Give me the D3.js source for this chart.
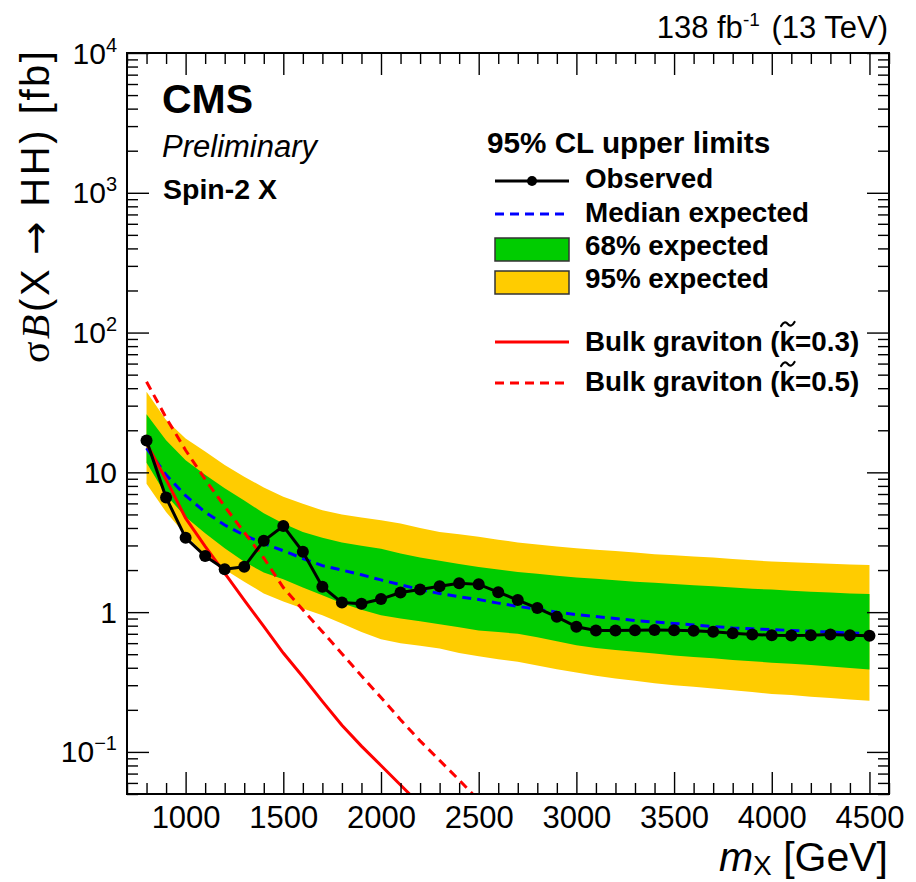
<!DOCTYPE html>
<html>
<head>
<meta charset="utf-8">
<script src="https://cdn.jsdelivr.net/npm/d3@7"></script>
<style>
  html, body { margin: 0; padding: 0; background: #fff; }
  svg { display: block; }
  text { font-family: "Liberation Sans", Arial, Helvetica, sans-serif; fill: #000; }
</style>
</head>
<body>
<svg id="chart" width="916" height="882"></svg>
<script>
// Resonance mass points (GeV) where the limits were computed
const massPoints = [800, 900, 1000, 1100, 1200, 1300, 1400, 1500, 1600, 1700,
  1800, 1900, 2000, 2100, 2200, 2300, 2400, 2500, 2600, 2700,
  2800, 2900, 3000, 3100, 3200, 3300, 3400, 3500, 3600, 3700,
  3800, 3900, 4000, 4100, 4200, 4300, 4400, 4500];

// Observed 95% CL upper limit on sigma*B(X -> HH) [fb]
const observed = [16.9, 6.6, 3.4, 2.52, 2.03, 2.11, 3.24, 4.13, 2.70, 1.52,
  1.17, 1.15, 1.24, 1.38, 1.45, 1.53, 1.61, 1.58, 1.39, 1.22,
  1.07, 0.925, 0.785, 0.74, 0.74, 0.743, 0.745, 0.743, 0.735, 0.723,
  0.707, 0.692, 0.684, 0.681, 0.684, 0.692, 0.684, 0.677];

// Expected limits: median and the 68% / 95% bands
const expMedian = [14.9, 9.6, 6.8, 5.2, 4.2, 3.55, 3.1, 2.75, 2.42, 2.15,
  2.0, 1.85, 1.70, 1.57, 1.45, 1.36, 1.29, 1.23, 1.16, 1.10,
  1.05, 1.0, 0.96, 0.93, 0.90, 0.87, 0.85, 0.83, 0.81, 0.79,
  0.77, 0.76, 0.75, 0.74, 0.73, 0.72, 0.71, 0.70];
const exp68Up = [26.0, 17.0, 12.2, 9.6, 7.7, 6.3, 5.1, 4.3, 3.75, 3.4,
  3.15, 2.98, 2.84, 2.63, 2.46, 2.33, 2.21, 2.10, 2.02, 1.94,
  1.88, 1.82, 1.77, 1.73, 1.69, 1.65, 1.62, 1.59, 1.56, 1.53,
  1.50, 1.47, 1.45, 1.42, 1.40, 1.38, 1.36, 1.35];
const exp68Down = [11.7, 6.9, 4.8, 3.66, 2.86, 2.29, 1.92, 1.72, 1.50, 1.32,
  1.16, 1.04, 0.95, 0.90, 0.86, 0.82, 0.78, 0.74, 0.72, 0.70,
  0.66, 0.62, 0.58, 0.555, 0.535, 0.52, 0.505, 0.49, 0.478, 0.467,
  0.455, 0.445, 0.435, 0.427, 0.418, 0.408, 0.398, 0.389];
const exp95Up = [37.8, 23.7, 17.5, 14.1, 11.3, 9.3, 7.8, 6.7, 5.95, 5.35,
  5.0, 4.75, 4.55, 4.3, 4.0, 3.75, 3.6, 3.46, 3.3, 3.15,
  3.05, 2.95, 2.87, 2.8, 2.74, 2.67, 2.6, 2.55, 2.5, 2.46,
  2.4, 2.35, 2.3, 2.27, 2.25, 2.22, 2.19, 2.17];
const exp95Down = [8.3, 5.2, 3.56, 2.56, 2.02, 1.65, 1.36, 1.19, 1.06, 0.95,
  0.83, 0.72, 0.64, 0.60, 0.575, 0.55, 0.51, 0.484, 0.46, 0.441,
  0.415, 0.39, 0.37, 0.35, 0.335, 0.323, 0.31, 0.30, 0.292, 0.284,
  0.276, 0.268, 0.26, 0.255, 0.248, 0.243, 0.237, 0.232];

// Bulk graviton theory cross sections [fb]
const gravMassK03 = [800, 900, 1000, 1100, 1200, 1300, 1400, 1500, 1600, 1700,
  1800, 1900, 2000, 2100, 2200];
const gravK03 = [16.0, 8.9, 4.7, 2.95, 1.9, 1.22, 0.79, 0.51, 0.345, 0.23,
  0.155, 0.11, 0.08, 0.058, 0.042];
const gravMassK05 = [800, 900, 1000, 1100, 1200, 1300, 1400, 1500, 1600, 1700,
  1800, 1900, 2000, 2100, 2200, 2300, 2400, 2500];
const gravK05 = [44.5, 24.6, 14.4, 8.9, 5.7, 3.72, 2.44, 1.5, 1.04, 0.725,
  0.504, 0.35, 0.245, 0.17, 0.12, 0.087, 0.063, 0.045];

// Axis tick labels
const xTickLabels = [1000, 1500, 2000, 2500, 3000, 3500, 4000, 4500];
const yTickLabels = [
  { v: 1e4, base: "10", sup: "4" },
  { v: 1e3, base: "10", sup: "3" },
  { v: 1e2, base: "10", sup: "2" },
  { v: 10, base: "10", sup: "" },
  { v: 1, base: "1", sup: "" },
  { v: 0.1, base: "10", sup: "\u22121" }
];

const svg = d3.select("#chart");
const frameL = 127, frameR = 889, frameT = 53, frameB = 794;

const x = d3.scaleLinear().domain([700, 4600]).range([frameL, frameR]);
const y = d3.scaleLog().domain([0.05, 1e4]).range([frameB, frameT]);

svg.append("defs").append("clipPath").attr("id", "plotClip")
  .append("rect").attr("x", frameL).attr("y", frameT)
  .attr("width", frameR - frameL).attr("height", frameB - frameT);

const plot = svg.append("g").attr("clip-path", "url(#plotClip)");

const rows = massPoints.map((m, i) => ({
  m, obs: observed[i], med: expMedian[i],
  u1: exp68Up[i], d1: exp68Down[i], u2: exp95Up[i], d2: exp95Down[i]
}));

// 95% band
plot.append("path").datum(rows)
  .attr("fill", "#ffcc00")
  .attr("d", d3.area().x(d => x(d.m)).y0(d => y(d.d2)).y1(d => y(d.u2)));
// 68% band
plot.append("path").datum(rows)
  .attr("fill", "#00cc00")
  .attr("d", d3.area().x(d => x(d.m)).y0(d => y(d.d1)).y1(d => y(d.u1)));
// Median expected
plot.append("path").datum(rows)
  .attr("fill", "none").attr("stroke", "#0000ff").attr("stroke-width", 3)
  .attr("stroke-dasharray", "9,6")
  .attr("d", d3.line().x(d => x(d.m)).y(d => y(d.med)));

// Bulk graviton curves
const lineXY = d3.line().x(d => x(d[0])).y(d => y(d[1]));
plot.append("path").datum(d3.zip(gravMassK03, gravK03))
  .attr("fill", "none").attr("stroke", "#ff0000").attr("stroke-width", 3)
  .attr("d", lineXY);
plot.append("path").datum(d3.zip(gravMassK05, gravK05))
  .attr("fill", "none").attr("stroke", "#ff0000").attr("stroke-width", 3)
  .attr("stroke-dasharray", "9,6")
  .attr("d", lineXY);

// Observed limit
plot.append("path").datum(rows)
  .attr("fill", "none").attr("stroke", "#000").attr("stroke-width", 3)
  .attr("d", d3.line().x(d => x(d.m)).y(d => y(d.obs)));
svg.append("g").selectAll("circle").data(rows).join("circle")
  .attr("cx", d => x(d.m)).attr("cy", d => y(d.obs)).attr("r", 6)
  .attr("fill", "#000");

// Axes with inward ticks on all four sides
const majorX = d3.range(1000, 4501, 500);
const minorX = x.ticks(39).filter(v => v % 500 !== 0);
const majorY = [0.1, 1, 10, 100, 1000, 10000];
const minorY = y.ticks().filter(v => !majorY.some(m => Math.abs(v - m) / m < 1e-6));

function styleAxis(g) {
  g.select(".domain").remove();
  g.selectAll(".tick line").attr("stroke", "#000").attr("stroke-width", 1.4);
}
function addAxis(axisGen, scale, values, size, transform) {
  const a = axisGen(scale).tickValues(values).tickSize(-size).tickFormat("");
  return svg.append("g").attr("transform", transform).call(a).call(styleAxis);
}

const xAxis = d3.axisBottom(x).tickValues(xTickLabels).tickSize(-22).tickPadding(12)
  .tickFormat(d3.format("d"));
svg.append("g").attr("transform", `translate(0,${frameB})`).call(xAxis).call(styleAxis)
  .selectAll("text").attr("font-size", 31).attr("font-family", "Liberation Sans, Arial, sans-serif")
  .attr("fill", "#000");
addAxis(d3.axisBottom, x, minorX, 11, `translate(0,${frameB})`);
addAxis(d3.axisTop, x, majorX, 22, `translate(0,${frameT})`);
addAxis(d3.axisTop, x, minorX, 11, `translate(0,${frameT})`);
addAxis(d3.axisLeft, y, majorY, 22, `translate(${frameL},0)`);
addAxis(d3.axisLeft, y, minorY, 11, `translate(${frameL},0)`);
addAxis(d3.axisRight, y, majorY, 22, `translate(${frameR},0)`);
addAxis(d3.axisRight, y, minorY, 11, `translate(${frameR},0)`);

// Y tick labels with exponents
const yl = svg.append("g");
yTickLabels.forEach(t => {
  const txt = yl.append("text").attr("x", 117).attr("y", y(t.v) + 10.5)
    .attr("text-anchor", "end").attr("font-size", 30);
  txt.append("tspan").text(t.base);
  if (t.sup) txt.append("tspan").attr("font-size", 20).attr("dy", -12).text(t.sup);
});

// Frame
svg.append("rect").attr("x", frameL).attr("y", frameT)
  .attr("width", frameR - frameL).attr("height", frameB - frameT)
  .attr("fill", "none").attr("stroke", "#000").attr("stroke-width", 2);

// Axis titles
const xt = svg.append("text").attr("x", 888).attr("y", 871)
  .attr("text-anchor", "end").attr("font-size", 41);
xt.append("tspan").attr("font-style", "italic").text("m");
xt.append("tspan").attr("font-size", 28).attr("dy", 4).text("X");
xt.append("tspan").attr("dy", -4).text(" [GeV]");

const yt = svg.append("text").attr("transform", "translate(49,51) rotate(-90)")
  .attr("text-anchor", "end").attr("font-size", 40)
  .attr("textLength", 312).attr("lengthAdjust", "spacing");
yt.append("tspan").attr("font-family", "Liberation Serif, serif").text("\u03c3");
yt.append("tspan").attr("font-family", "Liberation Serif, serif").attr("font-style", "italic").text("B");
yt.append("tspan").text("(X");
yt.append("tspan").attr("font-family", "DejaVu Sans, sans-serif").attr("dx", 12).text("\u2192");
yt.append("tspan").attr("dx", 12).text("HH) [fb]");

// Luminosity label
const lumi = svg.append("text").attr("x", 888).attr("y", 38)
  .attr("text-anchor", "end").attr("font-size", 31);
lumi.append("tspan").text("138 fb");
lumi.append("tspan").attr("font-size", 19).attr("dy", -12).text("-1");
lumi.append("tspan").attr("dy", 12).attr("dx", 3).text(" (13 TeV)");

// Experiment labels
svg.append("text").attr("x", 162).attr("y", 113).attr("font-size", 41)
  .attr("font-weight", "bold").text("CMS");
svg.append("text").attr("x", 162).attr("y", 157).attr("font-size", 31)
  .attr("font-style", "italic").text("Preliminary");
svg.append("text").attr("x", 163).attr("y", 199).attr("font-size", 28.5)
  .attr("font-weight", "bold").text("Spin-2 X");

// Legend
const lg = svg.append("g");
lg.append("text").attr("x", 487).attr("y", 153).attr("font-size", 29.7)
  .attr("font-weight", "bold").text("95% CL upper limits");

const lx0 = 495, lx1 = 569, tx = 585;
lg.append("line").attr("x1", lx0).attr("x2", lx1).attr("y1", 181).attr("y2", 181)
  .attr("stroke", "#000").attr("stroke-width", 3);
lg.append("circle").attr("cx", (lx0 + lx1) / 2).attr("cy", 181).attr("r", 5).attr("fill", "#000");
lg.append("line").attr("x1", lx0).attr("x2", lx1).attr("y1", 214).attr("y2", 214)
  .attr("stroke", "#0000ff").attr("stroke-width", 3).attr("stroke-dasharray", "9,6");
lg.append("rect").attr("x", lx0).attr("y", 238).attr("width", lx1 - lx0).attr("height", 23)
  .attr("fill", "#00cc00").attr("stroke", "#333").attr("stroke-width", 1.5);
lg.append("rect").attr("x", lx0).attr("y", 271).attr("width", lx1 - lx0).attr("height", 23)
  .attr("fill", "#ffcc00").attr("stroke", "#333").attr("stroke-width", 1.5);
lg.append("line").attr("x1", lx0).attr("x2", lx1).attr("y1", 342).attr("y2", 342)
  .attr("stroke", "#ff0000").attr("stroke-width", 3);
lg.append("line").attr("x1", lx0).attr("x2", lx1).attr("y1", 383).attr("y2", 383)
  .attr("stroke", "#ff0000").attr("stroke-width", 3).attr("stroke-dasharray", "9,6");

const entries = [
  { t: "Observed", y: 188 },
  { t: "Median expected", y: 222 },
  { t: "68% expected", y: 255 },
  { t: "95% expected", y: 288 },
  { t: "Bulk graviton (k=0.3)", y: 351, tilde: true },
  { t: "Bulk graviton (k=0.5)", y: 391, tilde: true }
];
entries.forEach(e => {
  const node = lg.append("text").attr("x", tx).attr("y", e.y).attr("font-size", 27.8)
    .attr("font-weight", "bold").text(e.t);
  if (e.tilde) {
    // wavy accent drawn over the k
    const idx = e.t.indexOf("k=");
    const ext = node.node().getExtentOfChar(idx);
    const a = ext.x + 1.5, w = ext.width - 2;
    const ty = e.y - 27;
    lg.append("path")
      .attr("d", `M${a},${ty + 2} Q${a + w / 4},${ty - 4} ${a + w / 2},${ty} T${a + w},${ty - 2}`)
      .attr("fill", "none").attr("stroke", "#000").attr("stroke-width", 2.2)
      .attr("stroke-linecap", "round");
  }
});
</script>
</body>
</html>
